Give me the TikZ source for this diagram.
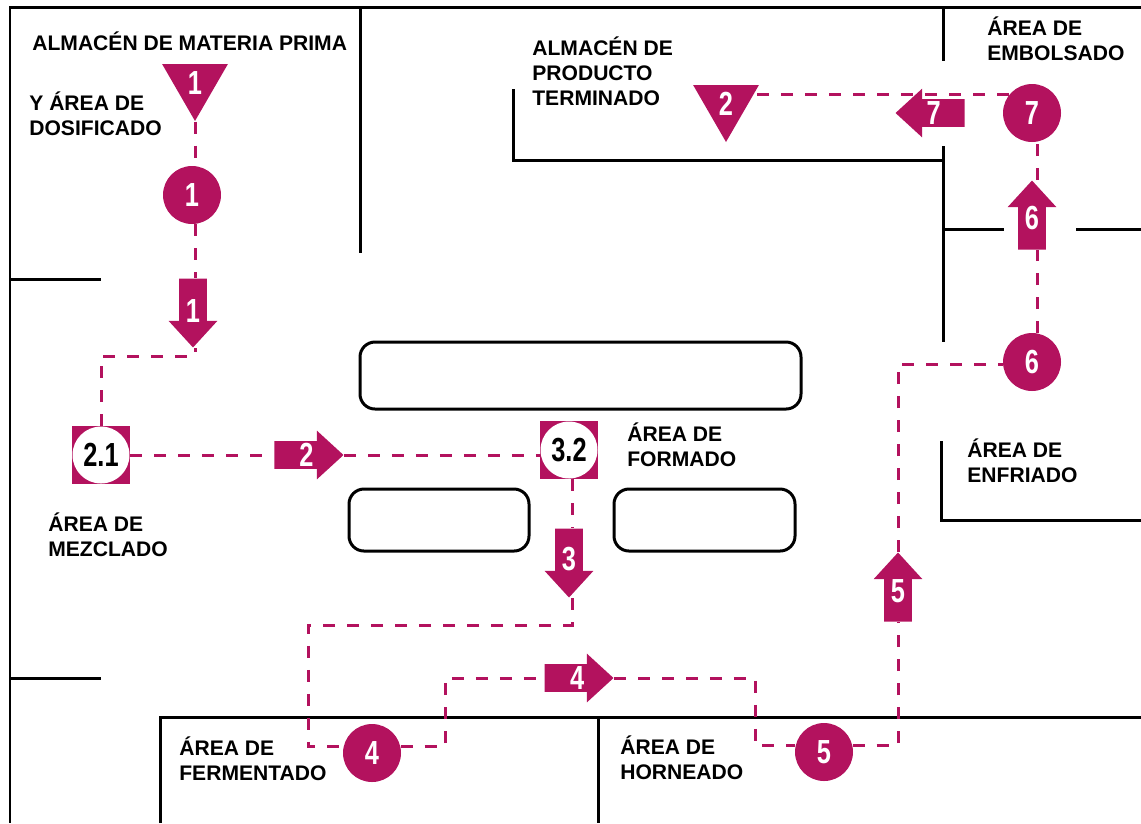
\documentclass[tikz,border=0pt]{standalone}
\usepackage{fontspec}
\setmainfont{Liberation Sans}
\newfontfamily\numfont{Liberation Sans}[FakeStretch=0.76]
\usetikzlibrary{shapes.geometric,shapes.arrows}
\definecolor{flow}{HTML}{B3125E}
\tikzset{
	wall/.style={line width=0.06cm},
	tablebox/.style={line width=0.06cm, rounded corners=0.3cm},
	flowline/.style={line width=0.06cm, color=flow, dash pattern=on 0.24cm off 0.24cm},
	arealabel/.style={anchor=west, align=left, inner sep=0, font=\bfseries\fontsize{12}{14.2}\selectfont},
	numtext/.style={font=\numfont\bfseries\fontsize{19}{19}\selectfont},
	opcircle/.style={circle, fill=flow, text=white, minimum size=1.16cm, inner sep=0, numtext},
	storetri/.style={regular polygon, regular polygon sides=3, shape border rotate=180, fill=flow, text=white, minimum size=1.52cm, inner sep=0, numtext},
	squarecircle/.style={rectangle, fill=flow, text=black, minimum size=1.16cm, inner sep=0, numtext, path picture={\fill[white] (path picture bounding box.center) circle (0.57cm);}},
	movearrow/.style={single arrow, single arrow head extend=0.21cm, single arrow tip angle=85, fill=flow, text=white, minimum height=1.38cm, minimum width=0.96cm, inner sep=0, text width=0.54cm, align=center, text height=0.49cm, text depth=0.05cm, numtext},
}
\begin{document}
\begin{tikzpicture}[x=0.02cm, y=-0.02cm]
	%%%%% START %%%%%
	\useasboundingbox (0, 0) rectangle (1141, 823);
	
	\draw[wall] (1141, 7) -- (10, 7) -- (10, 823);
	\draw[wall] (360, 7) -- (360, 253);
	\draw[wall] (10, 279) -- (101, 279);
	\draw[wall] (10, 678) -- (101, 678);
	\draw[wall] (513, 89) -- (513, 160) -- (943, 160);
	\draw[wall] (943, 7) -- (943, 61);
	\draw[wall] (943, 146) -- (943, 342);
	\draw[wall] (943, 229) -- (1004, 229);
	\draw[wall] (1076, 229) -- (1141, 229);
	\draw[wall] (941, 441) -- (941, 520) -- (1141, 520);
	\draw[wall] (160, 823) -- (160, 717) -- (1141, 717);
	\draw[wall] (598, 717) -- (598, 823);
	
	\draw[tablebox] (360, 342) rectangle (801, 409);
	\draw[tablebox] (349, 489) rectangle (529, 551);
	\draw[tablebox] (614, 489) rectangle (795, 551);
	
	\node[arealabel] (almacenmp) at (32, 41) {ALMACÉN DE MATERIA PRIMA};
	\node[arealabel] (dosificado) at (29, 114) {Y ÁREA DE\\DOSIFICADO};
	\node[arealabel] (terminado) at (532, 71) {ALMACÉN DE\\PRODUCTO\\TERMINADO};
	\node[arealabel] (embolsado) at (987, 38.5) {ÁREA DE\\EMBOLSADO};
	\node[arealabel] (formado) at (627, 445) {ÁREA DE\\FORMADO};
	\node[arealabel] (enfriado) at (967, 461) {ÁREA DE\\ENFRIADO};
	\node[arealabel] (mezclado) at (48, 535) {ÁREA DE\\MEZCLADO};
	\node[arealabel] (fermentado) at (179, 759) {ÁREA DE\\FERMENTADO};
	\node[arealabel] (horneado) at (620, 758) {ÁREA DE\\HORNEADO};
	
	\node[storetri] (tri1) at (195, 83) {1};
	\node[storetri] (tri2) at (726, 104) {2};
	
	\node[opcircle] (circ1) at (192, 195) {1};
	\node[opcircle] (circ4) at (372, 753) {4};
	\node[opcircle] (circ5) at (824, 752) {5};
	\node[opcircle] (circ6) at (1032, 362) {6};
	\node[opcircle] (circ7) at (1032, 113) {7};
	
	\node[squarecircle] (sq21) at (101, 455) {2.1};
	\node[squarecircle] (sq32) at (569, 450) {3.2};
	
	\node[movearrow, shape border rotate=270, anchor=tip] (arr1) at (193, 348) {\raisebox{-3.5pt}{1}};
	\node[movearrow, anchor=tip] (arr2) at (344, 455) {\hspace*{5.6pt}2};
	\node[movearrow, shape border rotate=270, anchor=tip] (arr3) at (569, 598) {\raisebox{-2.5pt}{3}};
	\node[movearrow, anchor=tip] (arr4) at (614, 678) {\hspace*{6.5pt}4};
	\node[movearrow, shape border rotate=90, anchor=tip] (arr5) at (898, 552) {\raisebox{2pt}{5}};
	\node[movearrow, shape border rotate=90, anchor=tip] (arr6) at (1032, 180) {\raisebox{2.5pt}{6}};
	\node[movearrow, shape border rotate=180, anchor=tip] (arr7) at (895, 113) {\hspace*{-4.5pt}7};
	
	\coordinate (bendA) at (195, 356);
	\coordinate (bendB) at (308, 625);
	\coordinate (bendC) at (572, 625);
	\coordinate (bendD) at (445, 678);
	\coordinate (bendE) at (755, 678);
	
	\draw[flowline] (tri1.south) -- (tri1.south |- circ1.north);
	\draw[flowline] (tri1.south |- circ1.south) -- (tri1.south |- arr1.tail);
	\draw[flowline] (sq21.north) |- (bendA) -- (bendA |- arr1.tip);
	\draw[flowline] (sq21.east) -- (arr2.tail);
	\draw[flowline] (arr2.tip) -- (arr2.tip -| sq32.west);
	\draw[flowline] (bendC |- sq32.south) -- (bendC |- arr3.tail);
	\draw[flowline] (bendC |- arr3.tip) -- (bendC) -- (bendB) |- (circ4.168);
	\draw[flowline] (circ4.12) -| (bendD) -- (arr4.tail);
	\draw[flowline] (arr4.tip) -- (bendE) |- (circ5.168);
	\draw[flowline] (circ5.12) -| (arr5.tail);
	\draw[flowline] (arr5.tip) |- (circ6.184);
	\draw[flowline] (circ6.80) -- (circ6.80 |- arr6.tail);
	\draw[flowline] (circ7.-80 |- arr6.tip) -- (circ7.-80);
	\draw[flowline] (circ7.142) -- (circ7.142 -| tri2.20);
	%%%%% END %%%%%
\end{tikzpicture}
\end{document}
